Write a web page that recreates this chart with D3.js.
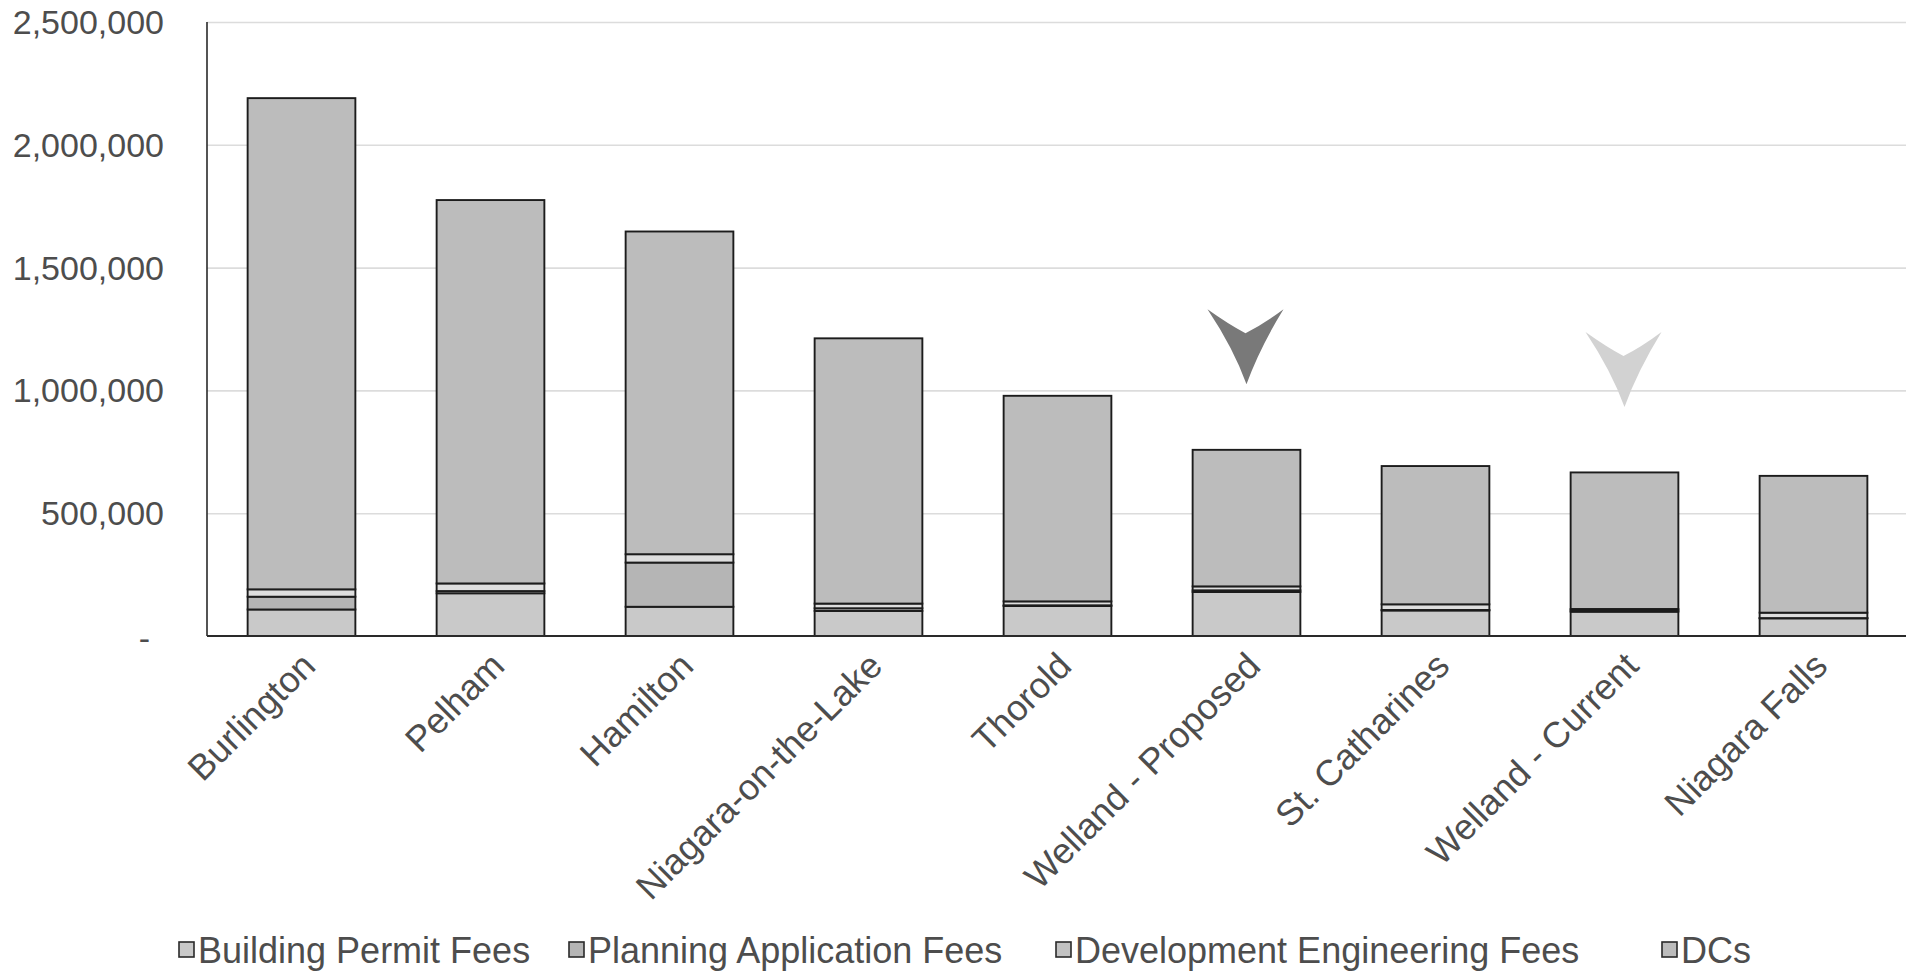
<!DOCTYPE html>
<html>
<head>
<meta charset="utf-8">
<script src="https://cdn.jsdelivr.net/npm/d3@7/dist/d3.min.js"></script>
<style>
  html, body { margin: 0; padding: 0; background: #ffffff; }
  svg { display: block; }
  text { font-family: "Liberation Sans", Arial, sans-serif; }
</style>
</head>
<body>
<svg id="chart" width="1909" height="973"></svg>
<script>
// Municipal fees per development scenario, stacked by fee type
const categories = ["Burlington", "Pelham", "Hamilton", "Niagara-on-the-Lake", "Thorold",
  "Welland - Proposed", "St. Catharines", "Welland - Current", "Niagara Falls"];

const buildingPermitFees      = [108000, 174000, 119000, 102000, 122000, 179000, 104000, 99000, 72000];
const planningApplicationFees = [52000, 9000, 180000, 11000, 3000, 7000, 2000, 5000, 1000];
const developmentEngFees      = [30000, 31000, 34000, 19000, 16000, 16000, 23000, 6000, 22000];
const dcs                     = [2000000, 1561000, 1314000, 1080000, 837000, 556000, 563000, 556000, 557000];

const seriesNames = ["Building Permit Fees", "Planning Application Fees", "Development Engineering Fees", "DCs"];
const yTickValues = [0, 500000, 1000000, 1500000, 2000000, 2500000];

// Highlight markers above the two Welland scenarios: [category, value at the arrow tip]
const markers = [["Welland - Proposed", 1025000], ["Welland - Current", 932000]];

// ---- layout ----
const W = 1909, H = 973;
const plot = { left: 207, right: 1906, top: 22, bottom: 636 };
const seriesFill = ["#c9c9c9", "#b5b5b5", "#dedede", "#bcbcbc"];
const legendFill = ["#c9c9c9", "#b5b5b5", "#c2c2c2", "#bcbcbc"];
const markerFill = ["#797979", "#d2d2d2"];
const textColor = "#4d4d4d";

const svg = d3.select("#chart");

const table = categories.map((c, i) => ({
  category: c,
  "Building Permit Fees": buildingPermitFees[i],
  "Planning Application Fees": planningApplicationFees[i],
  "Development Engineering Fees": developmentEngFees[i],
  "DCs": dcs[i]
}));
const stacked = d3.stack().keys(seriesNames)(table);

const x = d3.scaleBand()
  .domain(categories)
  .range([plot.left, plot.left + 9 * 189])
  .paddingInner(0.43)
  .paddingOuter(0.215);

const y = d3.scaleLinear()
  .domain([0, 2500000])
  .range([plot.bottom, plot.top]);

// gridlines
svg.append("g")
  .attr("transform", `translate(${plot.left},0)`)
  .call(d3.axisLeft(y).tickValues(yTickValues.filter(v => v > 0))
    .tickSize(-(plot.right - plot.left)).tickFormat(""))
  .call(g => g.select(".domain").remove())
  .call(g => g.selectAll(".tick line").attr("stroke", "#dcdcdc").attr("stroke-width", 1.6));

// y axis labels
const fmt = d3.format(",");
svg.append("g")
  .attr("transform", `translate(${plot.left},0)`)
  .call(d3.axisLeft(y).tickValues(yTickValues).tickSize(0).tickPadding(43)
    .tickFormat(v => v === 0 ? "-" : fmt(v)))
  .call(g => g.select(".domain").remove())
  .call(g => g.selectAll(".tick text")
    .attr("fill", textColor)
    .attr("font-size", 34)
    .attr("font-family", "'Liberation Sans', Arial, sans-serif")
    .attr("dx", v => v === 0 ? -14 : 0)
    .attr("dy", v => v === 0 ? "0.4em" : "0.34em"));

// stacked bars
svg.append("g")
  .selectAll("g")
  .data(stacked)
  .join("g")
  .attr("fill", (d, i) => seriesFill[i])
  .selectAll("rect")
  .data(d => d)
  .join("rect")
  .attr("x", d => x(d.data.category))
  .attr("width", x.bandwidth())
  .attr("y", d => y(d[1]))
  .attr("height", d => y(d[0]) - y(d[1]))
  .attr("stroke", "#1c1c1c")
  .attr("stroke-width", 1.9);

// axis lines
svg.append("line")
  .attr("x1", plot.left).attr("x2", plot.left)
  .attr("y1", y(2500000)).attr("y2", y(0))
  .attr("stroke", "#2a2a2a").attr("stroke-width", 1.6);
svg.append("line")
  .attr("x1", plot.left).attr("x2", plot.right)
  .attr("y1", y(0)).attr("y2", y(0))
  .attr("stroke", "#2a2a2a").attr("stroke-width", 1.8);

// category labels, rotated
svg.append("g")
  .selectAll("text")
  .data(categories)
  .join("text")
  .attr("transform", c => `translate(${x(c) + x.bandwidth() / 2 + 16},${plot.bottom + 32}) rotate(-45)`)
  .attr("text-anchor", "end")
  .attr("font-size", 36)
  .attr("fill", textColor)
  .text(c => c);

// arrow markers
const arrowPath = "M0,0 Q-13,-36 -39,-75 Q-18,-60 -1,-51 Q17,-60 37,-75 Q13,-36 0,0 Z";
svg.append("g")
  .selectAll("path")
  .data(markers)
  .join("path")
  .attr("transform", d => `translate(${x(d[0]) + x.bandwidth() / 2},${y(d[1])})`)
  .attr("d", arrowPath)
  .attr("fill", (d, i) => markerFill[i]);

// legend
const legendX = [179, 569, 1056, 1662];
const legend = svg.append("g")
  .selectAll("g")
  .data(seriesNames)
  .join("g")
  .attr("transform", (d, i) => `translate(${legendX[i]},950)`);
legend.append("rect")
  .attr("x", 0).attr("y", -8).attr("width", 15).attr("height", 15)
  .attr("fill", (d, i) => legendFill[i])
  .attr("stroke", "#2a2a2a").attr("stroke-width", 1.6);
legend.append("text")
  .attr("x", 19).attr("y", 0).attr("dy", "0.36em")
  .attr("font-size", 36)
  .attr("fill", textColor)
  .text(d => d);
</script>
</body>
</html>
